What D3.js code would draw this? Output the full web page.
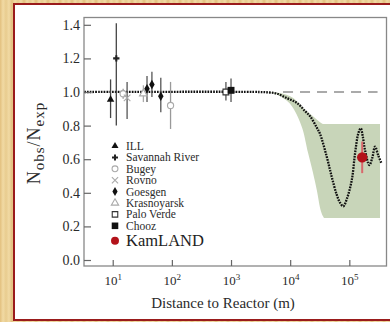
<!DOCTYPE html>
<meta charset="utf-8">
<style>
	body{ margin:0; background:#fff; }
	svg{ display:block; font-family:"Liberation Serif", "Times New Roman", Times, serif; }
	.tick text{ fill:#2a2a2a; }
	.tick line{ stroke:#666; stroke-width:1.2; }
</style>
<body>
<svg id="chart" width="390" height="322"></svg>
<script src="https://cdn.jsdelivr.net/npm/d3@7"></script>
<script>
	// experiments shown in the legend
	var expNames = ["ILL", "Savannah River", "Bugey", "Rovno", "Goesgen", "Krasnoyarsk", "Palo Verde", "Chooz", "KamLAND"];

	// measured points (distance in m, ratio Nobs/Nexp, error bar ends)
	var ptExp   = ["ILL", "Savannah River", "Bugey", "Rovno", "Krasnoyarsk", "Goesgen", "Goesgen", "Goesgen", "Bugey", "Palo Verde", "Chooz", "KamLAND"];
	var ptDist  = [9.2, 11.5, 15, 17.5, 33, 38, 46, 65, 95, 820, 1000, 165000];
	var ptRatio = [0.955, 1.2, 0.99, 0.965, 0.99, 1.02, 1.045, 0.975, 0.92, 1.0, 1.01, 0.611];
	var ptLow   = [0.845, 0.80, 0.96, 0.84, 0.94, 0.94, 0.97, 0.88, 0.78, 0.95, 0.94, 0.517];
	var ptHigh  = [1.075, 1.41, 1.02, 1.06, 1.04, 1.095, 1.12, 1.085, 1.06, 1.06, 1.08, 0.705];

	// oscillation curve (best fit)
	var curveDist  = [3.3, 3000, 4500, 6000, 9000, 13000, 18000, 22000, 28000, 32000, 41500, 50000, 61000, 70000, 79000, 90000, 110000, 125000, 142000, 156000, 168000, 184000, 218000, 245000, 272000, 310000, 350000];
	var curveRatio = [1.0, 1.0, 0.997, 0.99, 0.962, 0.935, 0.885, 0.853, 0.79, 0.75, 0.615, 0.50, 0.39, 0.34, 0.32, 0.36, 0.476, 0.635, 0.754, 0.784, 0.74, 0.655, 0.565, 0.61, 0.675, 0.62, 0.575];

	// allowed region (shaded band)
	var bandDist = [3760, 6000, 7570, 9950, 11200, 14700, 16500, 20000, 24300, 28400, 32000, 35900, 37500, 42000, 330000];
	var bandHigh = [1.0, 0.995, 0.99, 0.975, 0.965, 0.925, 0.905, 0.88, 0.855, 0.835, 0.82, 0.81, 0.81, 0.81, 0.81];
	var bandLow  = [1.0, 0.985, 0.965, 0.93, 0.905, 0.82, 0.77, 0.64, 0.52, 0.41, 0.31, 0.26, 0.25, 0.25, 0.25];

	var yTicks = [0, 0.2, 0.4, 0.6, 0.8, 1.0, 1.2, 1.4];
	var xTicks = [10, 100, 1000, 10000, 100000];

	var svg = d3.select("#chart");

	// wooden border of the slide
	var defs = svg.append("defs");
	var wood = defs.append("linearGradient").attr("id", "wood")
		.attr("x1", 0).attr("x2", 6).attr("y1", 0).attr("y2", 0)
		.attr("gradientUnits", "userSpaceOnUse").attr("spreadMethod", "reflect");
	wood.append("stop").attr("offset", 0).attr("stop-color", "#e2c07e");
	wood.append("stop").attr("offset", 0.5).attr("stop-color", "#f1daa4");
	wood.append("stop").attr("offset", 1).attr("stop-color", "#e8cc8f");
	svg.append("rect").attr("width", 390).attr("height", 322).attr("fill", "url(#wood)");
	svg.append("rect").attr("x", 14).attr("y", 4).attr("width", 390).attr("height", 316)
		.attr("fill", "#fff").attr("stroke", "#9a1b1b").attr("stroke-width", 2);

	var x = d3.scaleLog().domain([3.27, 425000]).range([84, 386.5]);
	var y = d3.scaleLinear().domain([-0.0357, 1.4435]).range([266, 17.5]);

	// band
	svg.append("path")
		.datum(bandDist.map(function(d, i){ return [d, bandLow[i], bandHigh[i]]; }))
		.attr("fill", "#c8d5b9")
		.attr("d", d3.area()
			.x(function(d){ return x(d[0]); })
			.y0(function(d){ return y(d[1]); })
			.y1(function(d){ return y(d[2]); })
			.curve(d3.curveMonotoneX));

	// no-oscillation reference
	svg.append("line")
		.attr("x1", x(7570)).attr("x2", x(300000))
		.attr("y1", y(1)).attr("y2", y(1))
		.attr("stroke", "#aaa").attr("stroke-width", 2)
		.attr("stroke-dasharray", "10 7");

	// fit curve
	svg.append("path")
		.datum(curveDist.map(function(d, i){ return [d, curveRatio[i]]; }))
		.attr("fill", "none").attr("stroke", "#111").attr("stroke-width", 2.3)
		.attr("stroke-dasharray", "1.7 1.1")
		.attr("d", d3.line()
			.x(function(d){ return x(d[0]); })
			.y(function(d){ return y(d[1]); })
			.curve(d3.curveCatmullRom));

	// frame
	svg.append("rect")
		.attr("x", 84).attr("y", 17.5).attr("width", 302.5).attr("height", 248.5)
		.attr("fill", "none").attr("stroke", "#888").attr("stroke-width", 1.3);

	// axes (ticks point inwards)
	var yAxis = svg.append("g").attr("transform", "translate(84,0)")
		.call(d3.axisLeft(y).tickValues(yTicks).tickFormat(d3.format(".1f"))
			.tickSizeInner(-7).tickSizeOuter(0).tickPadding(4));
	yAxis.attr("font-family", null);
	yAxis.select(".domain").remove();
	yAxis.selectAll("text").attr("font-size", 14);

	var xAxis = svg.append("g").attr("transform", "translate(0,266)")
		.call(d3.axisBottom(x).tickValues(xTicks).tickSizeInner(-6).tickSizeOuter(0).tickPadding(10));
	xAxis.attr("font-family", null);
	xAxis.select(".domain").remove();
	xAxis.selectAll("text")
		.attr("font-size", 13)
		.text("10")
		.append("tspan").attr("font-size", 9).attr("dy", "-0.55em")
		.text(function(d){ return Math.round(Math.log10(d)); });

	// axis titles
	svg.append("text")
		.attr("x", 223).attr("y", 308).attr("text-anchor", "middle")
		.attr("font-size", 15).attr("fill", "#2a2a2a")
		.text("Distance to Reactor (m)");

	var ylab = svg.append("text")
		.attr("transform", "translate(40,143) rotate(-90)")
		.attr("text-anchor", "middle").attr("font-size", 18).attr("fill", "#2a2a2a")
		.attr("letter-spacing", 1);
	ylab.append("tspan").text("N");
	ylab.append("tspan").attr("font-size", 15).attr("dy", 4).text("obs");
	ylab.append("tspan").attr("dy", -4).text("/N");
	ylab.append("tspan").attr("font-size", 15).attr("dy", 4).text("exp");

	// marker styles
	var symX = d3.symbolTimes || d3.symbolX;
	var styles = {
		"ILL":            {type: d3.symbolTriangle, size: 24, fill: "#111", stroke: "none", bar: "#444"},
		"Savannah River": {type: d3.symbolCross,    size: 22, fill: "#222", stroke: "none", bar: "#444"},
		"Bugey":          {type: d3.symbolCircle,   size: 30, fill: "#fff", stroke: "#aaa", bar: "#999"},
		"Rovno":          {type: symX,              size: 30, fill: "none", stroke: "#aaa", bar: "#555"},
		"Goesgen":        {type: d3.symbolDiamond,  size: 26, fill: "#111", stroke: "none", bar: "#555"},
		"Krasnoyarsk":    {type: d3.symbolTriangle, size: 26, fill: "#fff", stroke: "#aaa", bar: "#aaa"},
		"Palo Verde":     {type: d3.symbolSquare,   size: 34, fill: "#fff", stroke: "#333", bar: "#555"},
		"Chooz":          {type: d3.symbolSquare,   size: 48, fill: "#111", stroke: "none", bar: "#555"},
		"KamLAND":        {type: d3.symbolCircle,   size: 85, fill: "#b3121a", stroke: "none", bar: "#d9686c"}
	};

	var pts = ptExp.map(function(e, i){
		return {exp: e, d: ptDist[i], r: ptRatio[i], lo: ptLow[i], hi: ptHigh[i]};
	});

	svg.append("g").selectAll("line").data(pts).enter().append("line")
		.attr("x1", function(d){ return x(d.d); }).attr("x2", function(d){ return x(d.d); })
		.attr("y1", function(d){ return y(d.lo); }).attr("y2", function(d){ return y(d.hi); })
		.attr("stroke", function(d){ return styles[d.exp].bar; })
		.attr("stroke-width", function(d){ return d.exp == "KamLAND" ? 2 : 1.3; });

	svg.append("g").selectAll("path").data(pts).enter().append("path")
		.attr("transform", function(d){ return "translate(" + x(d.d) + "," + y(d.r) + ")"; })
		.attr("d", function(d){ var s = styles[d.exp]; return d3.symbol().type(s.type).size(s.size)(); })
		.attr("fill", function(d){ return styles[d.exp].fill; })
		.attr("stroke", function(d){ return styles[d.exp].stroke; })
		.attr("stroke-width", 1.1);

	// legend
	var legend = svg.append("g").selectAll("g").data(expNames).enter().append("g")
		.attr("transform", function(d, i){ return "translate(115," + (146 + i * 11.4 + (i == 8 ? 3.5 : 0)) + ")"; });
	legend.append("path")
		.attr("d", function(d){ var s = styles[d]; return d3.symbol().type(s.type).size(d == "KamLAND" ? 50 : s.size * 0.9)(); })
		.attr("fill", function(d){ return styles[d].fill; })
		.attr("stroke", function(d){ return styles[d].stroke; })
		.attr("stroke-width", 1.1);
	legend.append("text")
		.attr("x", 11).attr("dy", "0.35em")
		.attr("font-size", function(d){ return d == "KamLAND" ? 16.5 : 11.5; })
		.attr("fill", function(d){ return d == "KamLAND" ? "#222" : "#2a2a2a"; })
		.text(function(d){ return d; });
</script>
</body>
